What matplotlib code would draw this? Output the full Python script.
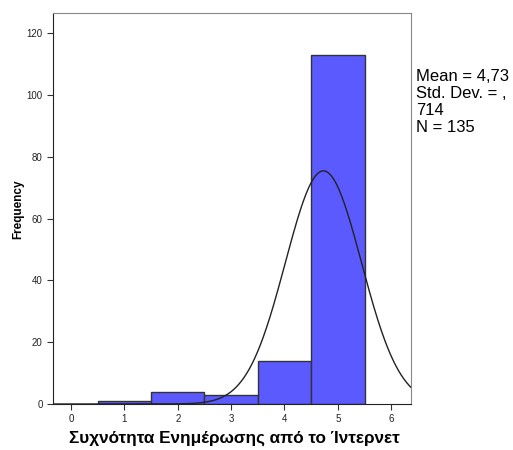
import numpy as np
import matplotlib
matplotlib.use('Agg')
from matplotlib import pyplot as plt

plt.rcParams['font.family'] = ['Liberation Sans', 'DejaVu Sans']

values = [1, 2, 3, 4, 5]
counts = [1, 4, 3, 14, 113]
mean, std, n = 4.73, 0.714, 135

fig = plt.figure(figsize=(5.13, 4.5), dpi=100)
ax = fig.add_axes([0.1033, 0.1022, 0.6977, 0.8689])

ax.bar(values, counts, width=1.0, color='#5a5aff', edgecolor='#333333', linewidth=1.0, zorder=2)

xs = np.linspace(-0.34, 6.37, 400)
ys = n * 1.0 / (std * np.sqrt(2 * np.pi)) * np.exp(-0.5 * ((xs - mean) / std) ** 2)
ax.plot(xs, ys, color='#222222', linewidth=1.0, zorder=3)

ax.set_xlim(-0.34, 6.37)
ax.set_ylim(0, 126.5)
ax.set_xticks(range(0, 7))
ax.set_yticks(range(0, 121, 20))
ax.tick_params(labelsize=7, length=4, width=0.8, colors='#333333', labelcolor='#222222')
for s in ['top', 'right']:
    ax.spines[s].set_color('#888888')
for s in ['left', 'bottom']:
    ax.spines[s].set_color('#222222')

fig.text(0.456, 0.027, 'Συχνότητα Ενημέρωσης από το Ίντερνετ', fontsize=12.3, fontweight='bold',
         ha='center', va='center')
fig.text(0.035, 0.535, 'Frequency', fontsize=8.5, fontweight='bold', rotation=90,
         ha='center', va='center')

fig.text(0.811, 0.846, 'Mean = 4,73\nStd. Dev. = ,\n714\nN = 135', fontsize=12,
         va='top', ha='left', linespacing=1.15)

plt.savefig('out.png', dpi=100)
